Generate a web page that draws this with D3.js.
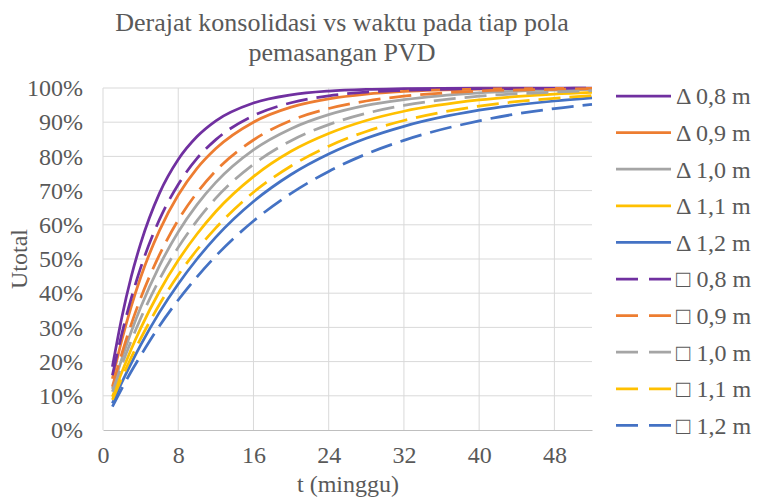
<!DOCTYPE html>
<html>
<head>
<meta charset="utf-8">
<script src="https://cdn.jsdelivr.net/npm/d3@7"></script>
<style>
  html, body { margin: 0; padding: 0; background: #fff; }
  svg { display: block; }
  text { font-family: "Liberation Serif", "Times New Roman", serif; fill: #595959; }
</style>
</head>
<body>
<svg id="chart" width="759" height="504"></svg>
<script>
// Time in weeks
const weeks = [1, 2, 3, 4, 6, 8, 10, 12, 16, 20, 24, 28, 32, 40, 48, 52];

// Degree of consolidation (%) per PVD pattern: triangle (Δ) and square (□) spacing
const tri08 = [18.5, 32.9, 44.8, 54.5, 69.2, 79.1, 85.8, 90.4, 95.6, 98.0, 99.1, 99.6, 99.8, 100.0, 100.0, 100.0];
const tri09 = [15.0, 26.3, 36.1, 44.6, 58.3, 68.7, 76.5, 82.3, 90.0, 94.4, 96.8, 98.2, 99.0, 99.7, 99.9, 99.9];
const tri10 = [12.0, 20.8, 28.7, 35.8, 48.0, 57.9, 65.9, 72.4, 81.9, 88.1, 92.2, 94.9, 96.6, 98.6, 99.4, 99.6];
const tri11 = [9.7, 16.9, 23.6, 29.7, 40.5, 49.6, 57.3, 63.9, 74.1, 81.5, 86.7, 90.5, 93.2, 96.5, 98.2, 98.7];
const tri12 = [7.8, 13.9, 19.5, 24.8, 34.4, 42.7, 50.0, 56.4, 66.8, 74.7, 80.7, 85.3, 88.8, 93.5, 96.2, 97.1];
const sq08 = [16.0, 28.1, 38.5, 47.4, 61.5, 71.8, 79.4, 84.9, 91.9, 95.7, 97.7, 98.8, 99.3, 99.8, 99.9, 100.0];
const sq09 = [12.7, 22.3, 30.9, 38.5, 51.2, 61.4, 69.4, 75.8, 84.8, 90.5, 94.0, 96.2, 97.6, 99.1, 99.6, 99.8];
const sq10 = [11.2, 19.0, 26.1, 32.6, 44.0, 53.4, 61.2, 67.8, 77.7, 84.6, 89.3, 92.6, 94.9, 97.6, 98.8, 99.2];
const sq11 = [8.8, 15.2, 21.2, 26.7, 36.7, 45.3, 52.7, 59.1, 69.5, 77.2, 83.0, 87.3, 90.5, 94.7, 97.0, 97.8];
const sq12 = [6.8, 12.1, 17.1, 21.7, 30.4, 38.0, 44.8, 50.9, 61.1, 69.2, 75.6, 80.7, 84.7, 90.4, 94.0, 95.2];

const seriesNames = ["Δ 0,8 m", "Δ 0,9 m", "Δ 1,0 m", "Δ 1,1 m", "Δ 1,2 m",
                     "□ 0,8 m", "□ 0,9 m", "□ 1,0 m", "□ 1,1 m", "□ 1,2 m"];
const seriesValues = [tri08, tri09, tri10, tri11, tri12, sq08, sq09, sq10, sq11, sq12];
const seriesDashed = [false, false, false, false, false, true, true, true, true, true];

const xTicks = [0, 8, 16, 24, 32, 40, 48];
const yTicks = [0, 10, 20, 30, 40, 50, 60, 70, 80, 90, 100];

const titleLines = ["Derajat konsolidasi vs waktu pada tiap pola", "pemasangan PVD"];
const xTitle = "t (minggu)";
const yTitle = "Utotal";

const palette = ["#7030A0", "#ED7D31", "#A5A5A5", "#FFC000", "#4472C4"];

const svg = d3.select("#chart");
const plot = { left: 103, right: 592, top: 88, bottom: 430 };

const x = d3.scaleLinear().domain([0, 52]).range([plot.left, plot.right]);
const y = d3.scaleLinear().domain([0, 100]).range([plot.bottom, plot.top]);

// Gridlines
const grid = svg.append("g");
grid.selectAll("line.h").data(yTicks.filter(d => d > 0)).join("line")
  .attr("x1", plot.left).attr("x2", plot.right)
  .attr("y1", d => y(d)).attr("y2", d => y(d))
  .attr("stroke", "#d9d9d9").attr("stroke-width", 1);
grid.selectAll("line.v").data(xTicks).join("line")
  .attr("x1", d => x(d)).attr("x2", d => x(d))
  .attr("y1", plot.top).attr("y2", plot.bottom)
  .attr("stroke", "#d9d9d9").attr("stroke-width", 1);

// Axes
const xAxis = svg.append("g")
  .attr("transform", `translate(0,${plot.bottom})`)
  .call(d3.axisBottom(x).tickValues(xTicks).tickSize(0).tickPadding(16));
xAxis.select(".domain").attr("stroke", "#bfbfbf").attr("stroke-width", 1.2);
xAxis.selectAll("text").style("font-size", "24px").attr("fill", "#595959")
  .style("font-family", "Liberation Serif, serif");

const yAxis = svg.append("g")
  .attr("transform", `translate(${plot.left},0)`)
  .call(d3.axisLeft(y).tickValues(yTicks).tickSize(0).tickPadding(20)
    .tickFormat(d => d + "%"));
yAxis.select(".domain").remove();
yAxis.selectAll("text").style("font-size", "24px").attr("fill", "#595959")
  .style("font-family", "Liberation Serif, serif");

// Curves
const line = d3.line()
  .x((d, i) => x(weeks[i]))
  .y(d => y(d))
  .curve(d3.curveMonotoneX);

const lines = svg.append("g");
seriesValues.forEach((vals, i) => {
  lines.append("path")
    .datum(vals)
    .attr("d", line)
    .attr("fill", "none")
    .attr("stroke", palette[i % 5])
    .attr("stroke-width", 2.75)
    .attr("stroke-linejoin", "round")
    .attr("stroke-dasharray", seriesDashed[i] ? "22 9" : null);
});

// Title
svg.append("text")
  .attr("x", 342).attr("text-anchor", "middle")
  .style("font-size", "26px")
  .selectAll("tspan").data(titleLines).join("tspan")
  .attr("x", 342)
  .attr("y", (d, i) => 31 + i * 30)
  .text(d => d);

// Axis titles
svg.append("text")
  .attr("x", 348).attr("y", 492)
  .attr("text-anchor", "middle")
  .style("font-size", "24px")
  .text(xTitle);

svg.append("text")
  .attr("transform", "translate(27,259) rotate(-90)")
  .attr("text-anchor", "middle")
  .style("font-size", "24px")
  .text(yTitle);

// Legend
const legend = svg.append("g");
seriesNames.forEach((name, i) => {
  const ly = 96 + i * 36.6;
  legend.append("line")
    .attr("x1", 616).attr("x2", 671)
    .attr("y1", ly).attr("y2", ly)
    .attr("stroke", palette[i % 5])
    .attr("stroke-width", 2.75)
    .attr("stroke-dasharray", seriesDashed[i] ? "22 11" : null);
  legend.append("text")
    .attr("x", 676).attr("y", ly)
    .attr("dy", "0.35em")
    .style("font-size", "24px")
    .text(name);
});
</script>
</body>
</html>
